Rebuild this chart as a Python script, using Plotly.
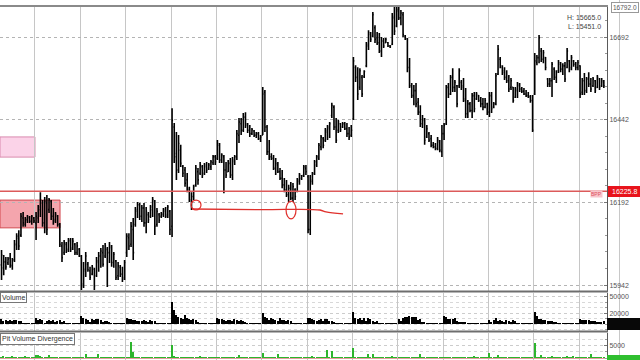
import plotly.graph_objects as go

# ---------------- data ----------------
opens = [
16003,15994,16012,16009,16024,16000,16018,16063,16084,16093,16145,16125,16140,16145,16135,16145,
16130,16145,16170,16190,16130,16190,16170,16195,16150,16140,16150,16125,16060,16040,16065,16050,16075,16055,16065,16040,16050,
16030,15945,15985,16005,15985,15975,15990,15970,16010,16030,16040,16030,16050,16040,16055,16010,16015,15970,15995,15975,15965,
16040,16085,16065,16110,16125,16165,16185,16150,16175,16130,16155,16150,16170,16195,16125,16155,16150,16155,16165,16155,16165,
16120,16420,16330,16290,16350,16300,16290,16260,16230,16195,16210,16245,16285,16280,16300,16280,16300,16295,16300,16312,16330,
16325,16365,16320,16330,16290,16285,16310,16275,16315,16330,16395,16430,16410,16450,16425,16410,16400,16408,16395,16400,16385,
16395,16525,16420,16345,16330,16325,16295,16305,16285,16265,16245,16230,16215,16235,16205,16230,16225,16255,16265,16275,16295,
16270,16110,16255,16280,16305,16325,16360,16385,16380,16405,16415,16455,16480,16420,16410,16430,16420,16430,16415,16400,16395,
16445,16600,16570,16540,16570,16572,16605,16665,16700,16695,16720,16690,16675,16650,16680,16675,16675,16665,16670,16750,16725,
16770,16750,16760,16695,16686,16600,16545,16515,16530,16495,16465,16430,16440,16390,16400,16385,16365,16360,16355,16375,16345,
16400,16430,16540,16520,16570,16540,16545,16545,16555,16545,16505,16460,16490,16470,16515,16505,16515,16500,16490,16480,16490,
16465,16515,16480,16490,16580,16625,16600,16590,16570,16560,16540,16540,16510,16530,16545,16535,16528,16520,16515,16512,16500,
16520,16615,16630,16650,16625,16630,16565,16550,16560,16595,16570,16590,16610,16595,16605,16600,16620,16600,16620,16610,16600,
16605,16525,16560,16530,16565,16550,16545,16560,16540,16565,16545,16555]

highs = [
16048,16033,16027,16027,16039,16024,16078,16099,16108,16160,16163,16148,16154,16151,16154,16148,
16163,16184,16223,16199,16208,16214,16205,16199,16175,16163,16154,16130,16072,16078,16072,16084,16084,16084,16069,16072,16054,
16033,16012,16042,16012,15997,16003,15994,16027,16042,16054,16063,16069,16057,16072,16063,16042,16018,16012,16003,15997,16018,
16099,16099,16133,16145,16178,16193,16190,16184,16190,16178,16163,16184,16208,16199,16175,16160,16163,16175,16178,16184,16169,
16477,16432,16405,16396,16366,16305,16299,16281,16239,16223,16245,16305,16296,16314,16305,16311,16314,16311,16320,16335,16335,
16381,16372,16341,16335,16314,16320,16326,16329,16335,16411,16447,16447,16462,16465,16432,16426,16417,16411,16405,16405,16396,
16541,16532,16426,16381,16341,16335,16326,16314,16296,16290,16266,16260,16245,16254,16251,16235,16266,16281,16275,16305,16305,
16275,16275,16284,16320,16335,16372,16396,16390,16417,16426,16435,16493,16486,16447,16441,16432,16435,16435,16432,16420,16426,
16632,16607,16601,16598,16577,16592,16677,16713,16707,16768,16728,16707,16704,16692,16689,16689,16677,16668,16765,16783,16783,
16783,16774,16768,16698,16689,16629,16553,16547,16553,16508,16486,16456,16447,16426,16405,16396,16375,16372,16390,16381,16426,
16432,16547,16553,16577,16598,16562,16547,16598,16562,16568,16538,16502,16496,16523,16526,16526,16517,16511,16508,16508,16493,
16526,16526,16496,16583,16668,16632,16607,16601,16592,16577,16568,16541,16541,16556,16553,16541,16538,16532,16526,16517,16517,
16644,16638,16698,16659,16653,16632,16568,16568,16617,16601,16592,16623,16617,16613,16617,16659,16623,16638,16623,16617,16623,
16607,16568,16583,16571,16586,16568,16571,16562,16577,16568,16568,16562]

lows = [
15957,15972,15988,16003,15994,15988,16012,16048,16048,16087,16118,16118,16130,16130,16124,16130,
16078,16130,16148,16118,16099,16093,16160,16139,16124,16130,16118,16057,16012,16033,16039,16042,16042,16048,16033,16033,16027,
15927,15933,15966,15982,15957,15972,15927,15966,15982,15994,15997,16024,15936,16009,15997,15994,15957,15957,15966,15951,15957,
16027,16048,16057,16018,16118,16145,16139,16133,16118,16099,16130,16145,16148,16093,16118,16130,16145,16148,16145,16145,16093,
16087,16311,16260,16281,16299,16269,16239,16223,16193,16169,16199,16239,16245,16275,16266,16275,16281,16290,16290,16305,16305,
16320,16311,16311,16220,16266,16284,16266,16260,16305,16320,16372,16396,16405,16417,16402,16390,16396,16390,16387,16381,16375,
16396,16405,16335,16320,16320,16290,16275,16281,16260,16235,16223,16208,16193,16199,16193,16199,16223,16245,16260,16269,16275,
16099,16093,16245,16275,16299,16320,16350,16356,16375,16381,16387,16447,16411,16372,16402,16405,16417,16411,16390,16381,16390,
16441,16556,16502,16532,16511,16568,16601,16653,16677,16692,16674,16668,16644,16632,16659,16674,16662,16659,16668,16698,16722,
16744,16728,16692,16683,16586,16538,16508,16486,16480,16456,16420,16417,16366,16387,16375,16359,16356,16350,16350,16344,16329,
16381,16426,16508,16517,16526,16526,16480,16538,16532,16496,16447,16447,16465,16447,16465,16502,16496,16480,16471,16477,16456,
16450,16462,16477,16486,16577,16598,16577,16562,16553,16526,16532,16493,16508,16508,16526,16523,16517,16511,16508,16493,16405,
16517,16607,16613,16617,16613,16592,16541,16541,16511,16562,16553,16583,16586,16577,16556,16598,16586,16592,16602,16592,16592,
16508,16517,16517,16523,16541,16526,16541,16523,16538,16532,16541,16538]

closes = [
16033,16012,15997,16021,16003,16018,16066,16090,16060,16150,16130,16140,16148,16135,16150,16136,
16150,16178,16200,16130,16195,16110,16200,16150,16135,16155,16125,16065,16025,16070,16045,16078,16050,16075,16040,16060,16030,
15940,15990,16030,15988,15965,15995,15940,16015,16030,16045,16005,16060,16040,16060,16010,16035,15965,16000,15975,15960,16010,
16090,16060,16120,16040,16170,16185,16150,16175,16130,16165,16140,16178,16200,16120,16165,16138,16158,16170,16150,16178,16110,
16440,16340,16290,16370,16310,16280,16250,16235,16200,16210,16240,16295,16260,16305,16275,16305,16290,16305,16315,16330,16315,
16370,16320,16335,16290,16275,16310,16275,16320,16330,16400,16435,16410,16450,16430,16410,16400,16412,16395,16400,16385,16390,
16520,16420,16345,16330,16325,16295,16310,16285,16265,16245,16230,16215,16235,16205,16240,16210,16260,16275,16272,16300,16285,
16110,16260,16278,16315,16330,16365,16390,16365,16410,16420,16430,16485,16420,16380,16435,16412,16430,16415,16400,16390,16410,
16620,16570,16520,16590,16520,16588,16670,16705,16685,16760,16685,16675,16650,16680,16665,16685,16665,16662,16755,16710,16775,
16750,16765,16700,16688,16600,16545,16515,16530,16490,16465,16430,16445,16380,16415,16380,16365,16360,16355,16380,16350,16400,
16425,16540,16520,16570,16540,16555,16490,16590,16540,16500,16460,16490,16470,16515,16475,16520,16500,16490,16480,16500,16465,
16515,16475,16490,16575,16655,16605,16585,16570,16560,16535,16560,16500,16535,16550,16535,16528,16520,16515,16512,16500,16410,
16620,16630,16690,16625,16645,16600,16550,16560,16610,16570,16585,16615,16595,16605,16565,16650,16595,16630,16610,16600,16615,
16520,16560,16530,16565,16550,16535,16565,16530,16570,16540,16560,16545]

volume = [
9000,5500,7500,5500,7500,5500,7500,7000,5000,5500,1500,1200,1500,1200,1500,1200,
11000,7500,9000,7000,1500,5500,7000,5000,7500,3000,6000,7000,4500,5000,1500,1200,1500,1200,1500,1200,1500,
15000,11000,9000,7500,2000,9500,7000,9000,9000,7500,3500,5000,6000,4000,1500,1200,1500,1200,1500,1200,1500,
11000,9000,9500,7500,7000,5000,5500,5500,6500,5000,4500,6500,5000,5500,1500,1200,1500,1200,1500,1200,1500,
40000,26000,16500,13000,11000,9000,16000,11000,9000,7000,9500,7000,3500,1500,1200,1500,1200,1500,1200,1500,1200,
11000,9500,9000,7500,5000,7500,7000,5000,9500,7000,5000,7500,5500,3500,1500,1200,1500,1200,1500,1200,1500,
20000,13000,11000,7500,11500,9000,7000,5000,11000,7000,7500,5500,7000,5000,1500,1200,1500,1200,1500,1200,1500,
11000,11000,9500,7500,5000,7000,9000,5500,9000,8500,5000,5500,3500,1500,1200,1500,1200,1500,1200,1500,1200,
22000,11000,9000,11000,7500,11000,5500,10500,8500,5500,3500,5000,1500,1200,1500,1200,1500,1200,1500,1200,1500,
9000,5500,11000,13000,13000,14500,13000,13000,12500,7500,9000,3500,3500,1500,1200,1500,1200,1500,1200,1500,1200,
14500,13000,9000,9000,8500,10500,5000,3500,3000,3500,3000,1500,1200,1500,1200,1500,1200,1500,1200,1500,1200,
7000,3500,7500,10500,5000,7500,5500,3500,7000,5500,3000,7000,5000,1500,1200,1500,1200,1500,1200,1500,1200,
22000,14000,9500,9000,7500,7000,5500,5000,5000,3000,3500,1500,1200,1500,1200,1500,1200,1500,1200,1500,1200,
9000,7500,7500,7000,7000,5500,5000,5000,3000,3500,2500,5000]

divergence = [
300,800,300,400,200,600,300,400,300,200,300,500,300,200,300,200,
1250,1250,1000,400,300,300,1250,400,300,200,400,300,200,300,200,300,200,300,200,300,200,
400,300,1700,300,400,200,300,400,1700,400,300,200,300,400,200,300,200,300,200,300,300,
300,400,6700,2500,400,300,200,300,400,300,200,300,400,300,200,300,200,300,200,300,200,
5400,800,400,300,400,300,200,300,400,300,200,300,400,830,300,200,300,200,300,200,300,
400,300,400,300,200,300,400,300,200,300,1250,300,200,300,200,300,200,300,200,300,200,
2100,400,300,400,300,200,300,1700,300,400,300,200,300,200,300,200,300,200,300,200,300,
400,300,830,300,400,200,300,400,300,3300,400,2900,300,200,300,200,300,200,300,200,300,
4200,400,300,400,300,200,300,1700,300,1500,300,200,300,200,300,200,300,200,830,200,300,
400,300,400,300,200,300,400,300,200,300,1700,300,200,300,200,300,200,300,200,300,200,
400,300,400,300,200,300,400,300,200,300,400,200,300,200,830,200,300,200,300,200,300,
2100,400,300,400,1250,300,200,300,400,300,200,300,200,300,200,300,200,300,200,300,400,
6300,400,300,1250,300,400,300,200,830,300,200,300,200,300,200,1000,300,400,1000,300,200,
400,300,400,300,200,1700,300,400,300,200,300,400]

bar_index = list(range(len(opens)))
session_breaks = [15.5, 36.5, 57.5, 78.5, 99.5, 120.5, 141.5, 162.5, 183.5, 204.5, 225.5, 246.5, 267.5]

price_ticks = [15942, 16192, 16442, 16692]
price_ticktext = ["15942", "16192", "16442", "16692"]
volume_ticks = [20000, 50000]
volume_ticktext = ["20000", "50000"]
div_ticks = [5000]
div_ticktext = ["5000"]

last_price = 16225.8
last_price_text = "16225.8"
hl_texts = ["H: 15665.0", "L: 15451.0"]

# zones (price ranges) and hand drawn marks
zone1 = dict(x0=-0.71, x1=15.5, y0=16329, y1=16390)
zone2 = dict(x0=-0.71, x1=27.1, y0=16115, y1=16199)
pen_x = [88.2, 120.0, 147.5, 150.3, 158.2]
pen_y = [16172, 16170, 16169, 16163, 16157]
circle1 = dict(x0=87.8, x1=92.4, y0=16169, y1=16199)
circle2 = dict(x0=131.8, x1=136.4, y0=16142, y1=16196)

# ---------------- figure ----------------
FONT = "Liberation Sans, Arial, sans-serif"
XR = [-0.71, 280.47]
XD = [0, 607 / 640]

fig = go.Figure()

fig.add_trace(go.Ohlc(
    x=bar_index, open=opens, high=highs, low=lows, close=closes,
    xaxis="x", yaxis="y",
    increasing=dict(line=dict(color="#000000", width=1.6)),
    decreasing=dict(line=dict(color="#000000", width=1.6)),
    tickwidth=0.45, showlegend=False, hoverinfo="skip"))

fig.add_trace(go.Scatter(
    x=pen_x, y=pen_y, mode="lines", xaxis="x", yaxis="y",
    line=dict(color="#e0302c", width=1.3, shape="spline"),
    showlegend=False, hoverinfo="skip"))

fig.add_trace(go.Bar(
    x=bar_index, y=volume, xaxis="x2", yaxis="y2",
    marker=dict(color="#000000", line=dict(width=0)), width=0.65,
    showlegend=False, hoverinfo="skip"))

fig.add_trace(go.Bar(
    x=bar_index, y=divergence, xaxis="x3", yaxis="y3",
    marker=dict(color="#2db52d", line=dict(width=0)), width=0.65,
    showlegend=False, hoverinfo="skip"))

def xaxis_cfg(anchor):
    return dict(domain=XD, range=XR, anchor=anchor, showticklabels=False,
                ticks="", tickvals=session_breaks, showgrid=True,
                gridcolor="#c6c6c6", gridwidth=1, zeroline=False,
                showline=False, fixedrange=True)

x1 = xaxis_cfg("y")
x1["rangeslider"] = dict(visible=False)

fig.update_layout(
    width=640, height=360, autosize=False,
    margin=dict(l=0, r=0, t=0, b=0, pad=0),
    paper_bgcolor="white", plot_bgcolor="white",
    font=dict(family=FONT, size=7, color="#444"),
    bargap=0,
    xaxis=x1,
    xaxis2=xaxis_cfg("y2"),
    xaxis3=xaxis_cfg("y3"),
    yaxis=dict(domain=[69 / 360, 354 / 360], range=[15924, 16786], anchor="x",
               side="right", tickvals=price_ticks, ticktext=price_ticktext,
               tickfont=dict(size=7, color="#555"), ticks="inside", ticklen=3,
               tickcolor="#777", showgrid=True, gridcolor="#b4b4b4",
               griddash="dot", gridwidth=1, zeroline=False, showline=True,
               linecolor="#5a5a5a", linewidth=1,
               minor=dict(tick0=15942, dtick=50, ticks="inside", ticklen=2,
                          tickcolor="#999", showgrid=False)),
    yaxis2=dict(domain=[29 / 360, 67 / 360], range=[-12950, 57350], anchor="x2",
                side="right", tickvals=volume_ticks, ticktext=volume_ticktext,
                tickfont=dict(size=7, color="#555"), ticks="inside", ticklen=3,
                tickcolor="#777", showgrid=True, gridcolor="#cccccc",
                griddash="dot", zeroline=False, showline=True,
                linecolor="#5a5a5a", linewidth=1,
                minor=dict(tick0=0, dtick=10000, ticks="inside", ticklen=2,
                           tickcolor="#999", showgrid=True, gridcolor="#d8d8d8",
                           griddash="dot")),
    yaxis3=dict(domain=[0, 27 / 360], range=[-830, 10400], anchor="x3",
                side="right", tickvals=div_ticks, ticktext=div_ticktext,
                tickfont=dict(size=7, color="#555"), ticks="inside", ticklen=3,
                tickcolor="#777", showgrid=True, gridcolor="#cccccc",
                griddash="dot", zeroline=True, zerolinecolor="#e89aa0",
                zerolinewidth=1, showline=True, linecolor="#5a5a5a",
                linewidth=1,
                minor=dict(tick0=0, dtick=2500, ticks="inside", ticklen=2,
                           tickcolor="#999", showgrid=True, gridcolor="#d8d8d8",
                           griddash="dot")),
)

shapes = []
shapes.append(dict(type="rect", xref="x", yref="y", layer="below",
                   fillcolor="#fbd3e8", line=dict(color="#d98aae", width=1), **zone1))
shapes.append(dict(type="rect", xref="x", yref="y", layer="below",
                   fillcolor="#f4a5ad", line=dict(color="#d2484f", width=1), **zone2))
shapes.append(dict(type="line", xref="paper", yref="y", x0=0, x1=607 / 640,
                   y0=last_price, y1=last_price,
                   line=dict(color="#dc5a5a", width=1.5)))
shapes.append(dict(type="circle", xref="x", yref="y",
                   line=dict(color="#e0302c", width=1.2), **circle1))
shapes.append(dict(type="circle", xref="x", yref="y",
                   line=dict(color="#e0302c", width=1.2), **circle2))
shapes.append(dict(type="line", xref="paper", yref="paper", x0=0, x1=608 / 640,
                   y0=354 / 360, y1=354 / 360, line=dict(color="#8a8a8a", width=2)))
shapes.append(dict(type="line", xref="paper", yref="paper", x0=0, x1=608 / 640,
                   y0=68.5 / 360, y1=68.5 / 360, line=dict(color="#6e6e6e", width=2)))
shapes.append(dict(type="line", xref="paper", yref="paper", x0=0, x1=608 / 640,
                   y0=28.5 / 360, y1=28.5 / 360, line=dict(color="#6e6e6e", width=2)))
shapes.append(dict(type="line", xref="paper", yref="paper", x0=619.5 / 640, x1=619.5 / 640,
                   y0=0, y1=1, line=dict(color="#c8c8c8", width=1), layer="below"))
shapes.append(dict(type="rect", xref="paper", yref="paper", x0=608 / 640, x1=1,
                   y0=(360 - 197) / 360, y1=(360 - 186) / 360,
                   fillcolor="#e8141c", line=dict(width=0)))
shapes.append(dict(type="rect", xref="paper", yref="paper", x0=607 / 640, x1=1,
                   y0=30 / 360, y1=42 / 360, fillcolor="#080808", line=dict(width=0)))
shapes.append(dict(type="rect", xref="paper", yref="paper", x0=607 / 640, x1=1,
                   y0=0, y1=5 / 360, fillcolor="#2fbf2f", line=dict(width=0)))
fig.update_layout(shapes=shapes)

ann = []
ann.append(dict(xref="paper", yref="paper", x=610 / 640, y=(360 - 191.5) / 360,
                text=last_price_text, showarrow=False, xanchor="left", yanchor="middle",
                font=dict(size=7, color="white", family=FONT)))
ann.append(dict(xref="paper", yref="paper", x=603 / 640, y=(360 - 194) / 360,
                text="BPP", showarrow=False, xanchor="right", yanchor="middle",
                bgcolor="#f7c6cc", borderpad=0,
                font=dict(size=5, color="#e0505e", family=FONT)))
ann.append(dict(xref="paper", yref="paper", x=603 / 640, y=(360 - 17) / 360,
                text=hl_texts[0], showarrow=False, xanchor="right", yanchor="middle",
                font=dict(size=7, color="#444", family=FONT)))
ann.append(dict(xref="paper", yref="paper", x=603 / 640, y=(360 - 27) / 360,
                text=hl_texts[1], showarrow=False, xanchor="right", yanchor="middle",
                font=dict(size=7, color="#444", family=FONT)))
ann.append(dict(xref="paper", yref="paper", x=611 / 640, y=(360 - 7) / 360,
                text="16792.0", showarrow=False, xanchor="left", yanchor="middle",
                bordercolor="#999", borderwidth=1, borderpad=1, bgcolor="white",
                font=dict(size=6.5, color="#555", family=FONT)))
ann.append(dict(xref="paper", yref="paper", x=0, y=(360 - 292) / 360,
                text="Volume", showarrow=False, xanchor="left", yanchor="top",
                bordercolor="#777", borderwidth=1, borderpad=1, bgcolor="white",
                font=dict(size=7, color="#333", family=FONT)))
ann.append(dict(xref="paper", yref="paper", x=0, y=(360 - 333) / 360,
                text="Pit Volume Divergence", showarrow=False, xanchor="left", yanchor="top",
                bordercolor="#777", borderwidth=1, borderpad=1, bgcolor="white",
                font=dict(size=7, color="#333", family=FONT)))
fig.update_layout(annotations=ann)

fig.write_html("out.html")
